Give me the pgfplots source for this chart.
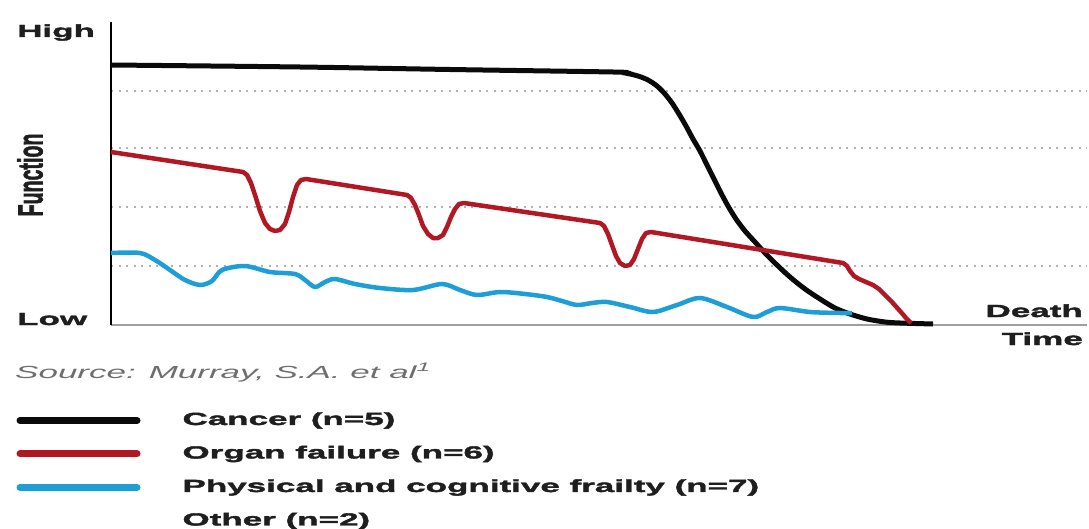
\documentclass[border=0pt]{standalone}
\usepackage{pgfplots}
\pgfplotsset{compat=1.18}
\usepackage{fontspec}
\setmainfont{Liberation Sans}
\newfontfamily\wide{Liberation Sans}[FakeStretch=2.0, BoldFeatures={FakeBold=2.2}]
\newfontfamily\heavy{Liberation Sans}[BoldFeatures={FakeBold=2.2}]
\newcommand{\lblfont}{\wide\bfseries\fontsize{17.5}{20}\selectfont}

\definecolor{cancerc}{RGB}{10,10,10}
\definecolor{organc}{RGB}{178,24,36}
\definecolor{frailc}{RGB}{30,158,215}
\definecolor{txtc}{RGB}{30,30,30}
\definecolor{srcc}{RGB}{110,110,110}

\begin{document}
\begin{tikzpicture}
\path[use as bounding box] (0,0) rectangle (1089pt,528pt);
\begin{axis}[
    at={(111pt,203pt)}, anchor=south west,
    scale only axis, width=976pt, height=303pt,
    xmin=111, xmax=1087, ymin=0, ymax=303,
    axis x line=bottom, axis y line=left,
    x axis line style={-, draw=gray!75, line width=2pt},
    y axis line style={-, draw=black, line width=1.6pt},
    xtick=\empty, ytick={59,118,177,234}, yticklabels={},
    major tick length=0pt,
    ymajorgrids,
    grid style={draw=gray!60, line width=1.4pt, dash pattern=on 2pt off 5.5pt},
    clip=false,
    legend image code/.code={\draw[#1,line width=7pt,line cap=round] (0pt,0pt) -- (117pt,0pt);},
    legend cell align=left,
    legend style={at={(axis description cs:-0.0968,-0.287)}, anchor=north west,
        draw=none, fill=none, inner sep=0pt, outer sep=0pt,
        row sep=16.5pt, column sep=42pt, font=\lblfont, text=txtc,
        nodes={inner sep=0pt, text height=13pt, text depth=4pt}},
]
% Cancer
\addplot[cancerc, line width=5pt, smooth, tension=0.5] coordinates {
    (111,260) (300,258) (450,255.5) (613,253) (625,252) (638,249) (648,245)
    (657,239) (665,231) (672,222) (679,211) (686,199) (693,186) (700,174)
    (707,160) (714,146) (721,132) (728,119) (736,106) (745,94) (755,83)
    (765,72) (777,60) (790,48) (805,36) (820,26) (835,17) (850,11) (867,6)
    (885,3) (900,2) (933,1)
};
\addlegendentry{Cancer (n=5)}
% Organ failure
\addplot[organc, line width=4.5pt, line join=round] coordinates {
    (111,173) (243,153) (247,150) (251,142) (255,130) (260,114) (265,102)
    (270,96) (275,94) (280,95) (285,101) (289,113) (293,128) (297,140)
    (301,145) (306,146)
    (407,130) (411,127) (415,120) (419,110) (423,99) (428,91) (433,87)
    (438,87) (443,90) (447,98) (451,108) (455,116) (459,121) (464,122)
    (600,102) (604,99) (608,91) (612,80) (616,69) (620,62) (625,59)
    (630,60) (634,66) (638,76) (642,86) (646,92) (651,93)
    (843,62) (847,59) (850,54) (854,49) (859,46) (866,43) (873,40)
    (879,36) (885,30) (892,23) (900,14) (906,7) (911,2)
};
\addlegendentry{Organ failure (n=6)}
% Physical and cognitive frailty
\addplot[frailc, line width=4.5pt, smooth, tension=0.5] coordinates {
    (111,72) (140,72) (155,65) (170,55) (185,45) (200,40) (212,44) (222,55)
    (245,59) (270,53) (295,51) (305,45) (315,38) (325,43) (335,46) (355,41)
    (380,37) (413,35) (442,41) (460,35) (477,30) (500,33) (525,31) (547,28)
    (562,24) (577,20) (592,22) (607,23) (630,18) (653,13) (677,20) (700,27)
    (727,18) (753,8) (767,13) (780,17) (810,13) (840,12) (852,12)
};
\addlegendentry{Physical and cognitive frailty (n=7)}
\addlegendimage{empty legend}
\addlegendentry{Other (n=2)}
\end{axis}
\begin{scope}[every node/.style={inner sep=0pt, text=txtc, font=\lblfont}]
\node[anchor=base west] at (17pt,491pt) {High};
\node[anchor=base west] at (17pt,203pt) {Low};
\node[anchor=base east] at (1083pt,211pt) {Death};
\node[anchor=base east] at (1083pt,183pt) {Time};
\node[rotate=90, font=\heavy\bfseries\fontsize{17.5}{20}\selectfont] at (30pt,353pt) {\scalebox{1.12}[2.0]{Function}};
\node[anchor=base west, text=srcc, font=\wide\itshape\fontsize{17.5}{20}\selectfont] at (15pt,150pt) {Source: Murray, S.A. et al\textsuperscript{1}};
\end{scope}
\end{tikzpicture}
\end{document}
